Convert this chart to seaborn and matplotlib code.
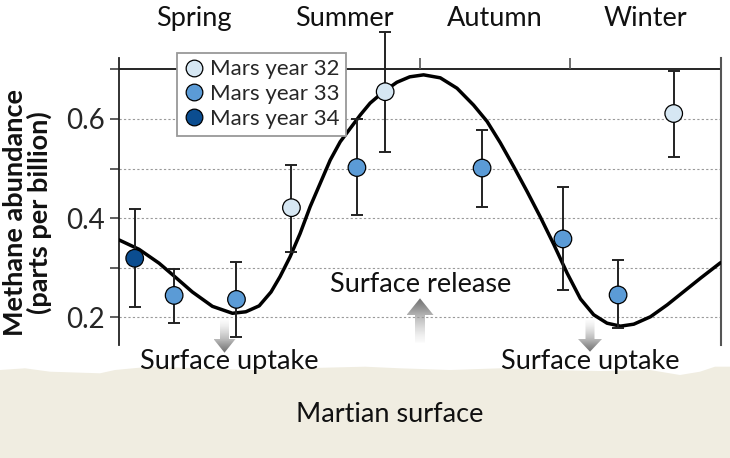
import numpy as np
import pandas as pd
import matplotlib
matplotlib.use('Agg')
import matplotlib.pyplot as plt
import matplotlib.transforms as mtransforms
from matplotlib.patches import Polygon
from matplotlib.lines import Line2D
import seaborn as sns

# ----------------------------------------------------------------------
# data
# ----------------------------------------------------------------------
# solar longitude Ls (deg) of each measurement
obs_ls = [9.4, 33.0, 70.3, 103.2, 142.4, 159.3, 217.3, 265.7, 298.7, 332.0]
obs_ch4 = [0.319, 0.244, 0.236, 0.421, 0.502, 0.655, 0.501, 0.358, 0.245, 0.611]
obs_hi = [0.419, 0.298, 0.311, 0.508, 0.599, 0.775, 0.578, 0.463, 0.316, 0.697]
obs_lo = [0.221, 0.189, 0.160, 0.331, 0.406, 0.534, 0.423, 0.255, 0.178, 0.524]
obs_year = ['Mars year 34', 'Mars year 33', 'Mars year 33', 'Mars year 32',
            'Mars year 33', 'Mars year 32', 'Mars year 33', 'Mars year 33',
            'Mars year 33', 'Mars year 32']

# model curve
curve_ls = [0, 12, 24, 33, 43.9, 55.9, 67.9, 75.9, 83.9, 91.0, 96.4, 102.4,
            108.4, 114.4, 120.4, 126.4, 132.4, 138.4, 144.4, 150.3, 158.3,
            166.3, 174.0, 182.3, 192.3, 202.3, 212.2, 220.3, 228.2, 236.2,
            244.2, 252.2, 260.2, 268.2, 276.2, 284.1, 292.1, 300.1, 308.1,
            318.1, 328.1, 338.1, 348.1, 360]
curve_ch4 = [0.356, 0.337, 0.309, 0.283, 0.251, 0.222, 0.208, 0.211, 0.223,
             0.251, 0.282, 0.322, 0.369, 0.423, 0.470, 0.517, 0.554, 0.581,
             0.608, 0.632, 0.655, 0.674, 0.685, 0.689, 0.683, 0.662, 0.628,
             0.595, 0.552, 0.504, 0.454, 0.402, 0.347, 0.289, 0.237, 0.205,
             0.188, 0.182, 0.186, 0.201, 0.225, 0.252, 0.279, 0.310]

years = ['Mars year 32', 'Mars year 33', 'Mars year 34']
year_colors = ['#d6e7f3', '#5b9bd6', '#0b4d90']

seasons = ['Spring', 'Summer', 'Autumn', 'Winter']
season_mid = [45, 135, 225, 315]
season_edges = [90, 180, 270]

yticks = [0.2, 0.3, 0.4, 0.5, 0.6, 0.7]
ytick_labels = ['0.2', '', '0.4', '', '0.6', '']
grid_levels = [0.2, 0.3, 0.4, 0.5, 0.6]

df = pd.DataFrame({'ls': obs_ls, 'ch4': obs_ch4, 'hi': obs_hi,
                   'lo': obs_lo, 'year': obs_year})
curve = pd.DataFrame({'ls': curve_ls, 'ch4': curve_ch4})
palette = dict(zip(years, year_colors))

# ----------------------------------------------------------------------
# style
# ----------------------------------------------------------------------
sns.set_theme(style='white')
plt.rcParams['font.family'] = ['Lato', 'DejaVu Sans']

W, H = 730, 458
fig = plt.figure(figsize=(W / 100, H / 100), dpi=100)

# background layer in pixel coordinates (surface, arrows, captions)
bg = fig.add_axes([0, 0, 1, 1], zorder=0)
bg.set_xlim(0, W)
bg.set_ylim(H, 0)
bg.axis('off')

surf_x = [0, 25, 50, 100, 115, 150, 200, 250, 300, 365, 400, 450, 500,
          550, 600, 650, 680, 700, 715, 730]
surf_y = [370, 368.3, 371.7, 373.3, 370, 366.7, 368.3, 370, 368.3, 366.7,
          368.3, 370, 368.3, 370, 371, 370, 375, 371.7, 366.7, 366.7]
surf = list(zip(surf_x, surf_y)) + [(W, H), (0, H)]
bg.add_patch(Polygon(surf, closed=True, facecolor='#f0ede1',
                     edgecolor='none', zorder=1))


def grad_arrow(cx, tail, base, tip, sw, hw):
    pts = [(cx - sw, tail), (cx + sw, tail), (cx + sw, base), (cx + hw, base),
           (cx, tip), (cx - hw, base), (cx - sw, base)]
    poly = Polygon(pts, closed=True, facecolor='none', edgecolor='none')
    bg.add_patch(poly)
    grad = np.linspace(0, 1, 100).reshape(-1, 1)
    top, bot = min(tail, tip), max(tail, tip)
    if tip < tail:
        grad = grad[::-1]
    im = bg.imshow(grad, cmap='Greys', vmin=-0.05, vmax=1.6,
                   extent=[cx - hw, cx + hw, bot, top], aspect='auto',
                   interpolation='bilinear', zorder=2)
    im.set_clip_path(poly)


grad_arrow(224.5, 320, 339, 352.7, 4.5, 11)
grad_arrow(590, 320, 339, 351.7, 4.5, 12)
grad_arrow(420, 342.7, 315, 298.3, 5, 13.5)
bg.set_xlim(0, W)
bg.set_ylim(H, 0)

cap_kw = dict(fontsize=19.5, color='#111111', ha='center', va='baseline',
              zorder=5)
bg.text(229.5, 368.5, 'Surface uptake', **cap_kw)
bg.text(590, 368.5, 'Surface uptake', **cap_kw)
bg.text(421, 292, 'Surface release', **cap_kw)
bg.text(389.5, 422.5, 'Martian surface', **cap_kw)

# ----------------------------------------------------------------------
# main chart
# ----------------------------------------------------------------------
left, right, top, bottom = 119, 720.5, 58, 345
ax = fig.add_axes([left / W, 1 - bottom / H, (right - left) / W,
                   (bottom - top) / H], zorder=1)
ax.set_facecolor('none')
ax.set_xlim(0, 360)
ax.set_ylim(0.144, 0.723)

ax.hlines(grid_levels, 0, 360, colors='#9a9a9a', linewidth=0.8,
          linestyles=(0, (2, 2)), zorder=1)
ax.axhline(0.7, color='black', linewidth=1.2, zorder=2)
ax.vlines(season_edges, 0.7, 0.723, colors='#555555', linewidth=1.2,
          zorder=2)

sns.lineplot(data=curve, x='ls', y='ch4', color='black', linewidth=2.5,
             ax=ax, zorder=3)

eb = ax.errorbar(df['ls'], df['ch4'],
                 yerr=[df['ch4'] - df['lo'], df['hi'] - df['ch4']],
                 fmt='none', ecolor='#222222', elinewidth=1.4, capsize=4.5,
                 capthick=1.4, zorder=4)
for part in eb.lines:
    for art in (part if isinstance(part, tuple) else [part]):
        if art is not None:
            art.set_clip_on(False)

sns.scatterplot(data=df, x='ls', y='ch4', hue='year', hue_order=years,
                palette=palette, s=160, edgecolor='black', linewidth=0.9,
                legend=False, ax=ax, zorder=5, clip_on=False)

for s in ['top', 'bottom']:
    ax.spines[s].set_visible(False)
ax.spines['left'].set_color('#222222')
ax.spines['left'].set_linewidth(1.3)
ax.spines['right'].set_color('#555555')
ax.spines['right'].set_linewidth(1.5)

ax.set_xticks([])
ax.set_yticks(yticks)
ax.set_yticklabels(ytick_labels)
ax.tick_params(axis='y', direction='out', length=6.5, width=1.1,
               color='#333333', labelsize=20, pad=3.5, left=True)
ax.set_xlabel('')
ax.set_ylabel('')

# season labels above the plot
trans = mtransforms.blended_transform_factory(ax.transData, fig.transFigure)
for name, mid in zip(seasons, season_mid):
    ax.text(mid, 1 - 26 / H, name, transform=trans, ha='center',
            va='baseline', fontsize=19.5, color='#111111')

fig.text(27.5 / W, 1 - 213 / H, 'Methane abundance\n(parts per billion)',
         rotation=90, ha='center', va='center', fontsize=19.5,
         fontweight='bold', linespacing=0.95, color='#111111')

handles = [Line2D([], [], marker='o', linestyle='none', markersize=12,
                  markerfacecolor=c, markeredgecolor='black',
                  markeredgewidth=0.9) for c in year_colors]
leg = ax.legend(handles, years, loc='upper left',
                bbox_to_anchor=(176.7 / W, 1 - 52.7 / H),
                bbox_transform=fig.transFigure, borderaxespad=0,
                fontsize=16, frameon=True, fancybox=False, framealpha=1,
                edgecolor='#999999', handletextpad=0.2, handlelength=1.0,
                borderpad=0.3, labelspacing=0.22)
leg.get_frame().set_linewidth(1.3)
leg.set_zorder(10)

fig.savefig('out.png', dpi=100)
